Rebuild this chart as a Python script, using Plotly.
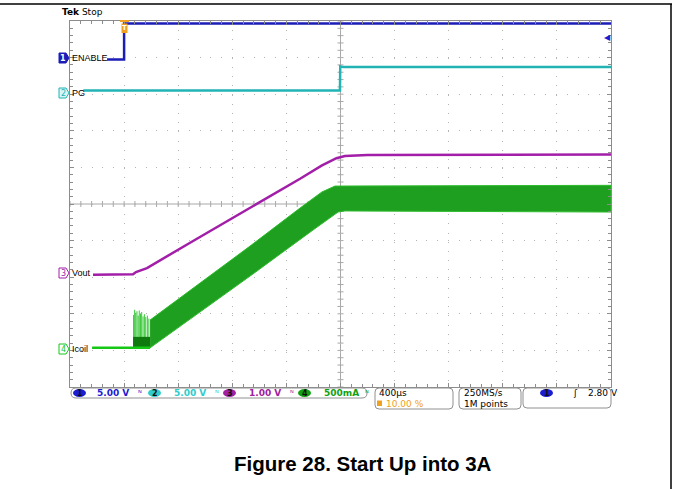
import plotly.graph_objects as go

# ---------------- data (time in µs, physical units per channel) ----------------
enable_t = [-126, 0, 0, 3600]
enable_v = [0.0, 0.0, 4.9, 4.9]

pg_t = [-302, 1596, 1598, 1620, 3600]
pg_v = [0.0, 0.0, 3.3, 3.2, 3.2]

vout_t = [-230, 66, 88, 169, 510, 931, 1301, 1460, 1520, 1570, 1633, 1800, 3600]
vout_v = [0.0, 0.01, 0.07, 0.18, 0.92, 1.82, 2.62, 2.98, 3.10, 3.18, 3.24, 3.27, 3.28]

icoil_base_t = [-237, 192]
icoil_base_a = [0.0, 0.0]
icoil_hi_t = [192, 931, 1301, 1463, 1559, 3600]
icoil_hi_a = [0.38, 1.39, 1.91, 2.13, 2.21, 2.22]
icoil_lo_t = [192, 931, 1397, 1582, 1633, 3600]
icoil_lo_a = [0.0, 0.98, 1.61, 1.855, 1.87, 1.855]
spike_t = [70, 78, 86, 95, 104, 112, 121, 130, 140, 150, 160, 172, 183]
spike_a = [0.45, 0.52, 0.48, 0.50, 0.44, 0.51, 0.47, 0.49, 0.43, 0.46, 0.42, 0.44, 0.40]

# channel scales (per division) and screen offsets (divisions)
ch_scale = {"1": 5.0, "2": 5.0, "3": 1.0, "4": 0.5}
ch_offset = {"1": 3.95, "2": 3.1, "3": -1.93, "4": -3.93}
ch_color = {"1": "#1c1cb8", "2": "#22b4b4", "3": "#a21ea8", "4": "#16c816"}
ch_label = {"1": "ENABLE", "2": "PG", "3": "Vout", "4": "Icoil"}

status_scale = ["5.00 V", "5.00 V", "1.00 V", "500mA"]
timebase = "400µs"
trig_pos = "10.00 %"
sample_rate = "250MS/s"
record_len = "1M points"
trig_level = "2.80 V"
title = "Figure 28. Start Up into 3A"


def div(ch, vals):
    return [ch_offset[ch] + v / ch_scale[ch] for v in vals]


fig = go.Figure()

# Icoil band
band_x = icoil_hi_t + icoil_lo_t[::-1]
band_y = div("4", icoil_hi_a) + div("4", icoil_lo_a)[::-1]
fig.add_trace(go.Scatter(x=band_x, y=band_y, fill="toself", mode="lines",
                         fillcolor="#1f9f1f", line=dict(color="#2cbc2c", width=1),
                         hoverinfo="skip"))
# noise spikes at start
sx, sy = [], []
for t, a in zip(spike_t, spike_a):
    sx += [t, t, None]
    sy += [ch_offset["4"], ch_offset["4"] + a / ch_scale["4"], None]
fig.add_trace(go.Scatter(x=sx, y=sy, mode="lines", line=dict(color="#3cc83c", width=1),
                         hoverinfo="skip"))
fig.add_trace(go.Scatter(x=[66, 192, 192, 66], y=div("4", [0.0, 0.0, 0.15, 0.15]),
                         fill="toself", mode="lines", fillcolor="#0e7a0e",
                         line=dict(width=0), hoverinfo="skip"))
fig.add_trace(go.Scatter(x=icoil_base_t, y=div("4", icoil_base_a), mode="lines",
                         line=dict(color=ch_color["4"], width=2.5), hoverinfo="skip"))

fig.add_trace(go.Scatter(x=vout_t, y=div("3", vout_v), mode="lines",
                         line=dict(color=ch_color["3"], width=2.5),
                         hoverinfo="skip"))
fig.add_trace(go.Scatter(x=pg_t, y=div("2", pg_v), mode="lines",
                         line=dict(color=ch_color["2"], width=2.5), hoverinfo="skip"))
fig.add_trace(go.Scatter(x=enable_t, y=div("1", enable_v), mode="lines",
                         line=dict(color=ch_color["1"], width=2.5), hoverinfo="skip"))

L, T, W, H = 70, 21, 541, 366


def px(x):
    return (x - L) / W


def py(y):
    return (T + H - y) / H


def rrect(x0, y0, x1, y1, r):
    return (f"M {px(x0 + r)},{py(y0)} L {px(x1 - r)},{py(y0)} "
            f"Q {px(x1)},{py(y0)} {px(x1)},{py(y0 + r)} L {px(x1)},{py(y1 - r)} "
            f"Q {px(x1)},{py(y1)} {px(x1 - r)},{py(y1)} L {px(x0 + r)},{py(y1)} "
            f"Q {px(x0)},{py(y1)} {px(x0)},{py(y1 - r)} L {px(x0)},{py(y0 + r)} "
            f"Q {px(x0)},{py(y0)} {px(x0 + r)},{py(y0)} Z")


shapes = []
grid_c = "#a8a8a8"
# center cross
shapes.append(dict(type="line", xref="x", yref="y", x0=1600, x1=1600, y0=-5, y1=5,
                   line=dict(color=grid_c, width=1), layer="below"))
shapes.append(dict(type="line", xref="x", yref="y", x0=-400, x1=3600, y0=0, y1=0,
                   line=dict(color=grid_c, width=1), layer="below"))
for i in range(51):
    t = -400 + i * 80
    shapes.append(dict(type="line", xref="x", yref="y", xsizemode="scaled", ysizemode="pixel",
                       yanchor=0, x0=t, x1=t, y0=-3, y1=3,
                       line=dict(color=grid_c, width=1), layer="below"))
for i in range(51):
    yv = -5 + i * 0.2
    shapes.append(dict(type="line", xref="x", yref="y", xsizemode="pixel", xanchor=1600,
                       x0=-3, x1=3, y0=yv, y1=yv,
                       line=dict(color=grid_c, width=1), layer="below"))

# page frame lines
shapes.append(dict(type="line", xref="paper", yref="paper", x0=px(0), x1=px(672), y0=py(4), y1=py(4),
                   line=dict(color="black", width=1.5)))
shapes.append(dict(type="line", xref="paper", yref="paper", x0=px(671), x1=px(671), y0=py(4), y1=py(489),
                   line=dict(color="black", width=1.5)))

# status boxes
for (x0, y0, x1, y1, r) in [(71, 388, 367, 398, 5), (375, 388, 453, 409, 4),
                            (459, 388, 521, 409, 4), (523, 388, 611, 408, 4)]:
    shapes.append(dict(type="path", xref="paper", yref="paper", path=rrect(x0, y0, x1, y1, r),
                       line=dict(color="#909090", width=1)))

ann = []
font = "DejaVu Sans"


def text(x, y, s, color="black", size=9, anchor="left", bold=False, fam=font):
    ann.append(dict(xref="paper", yref="paper", x=px(x), y=py(y), text=(f"<b>{s}</b>" if bold else s),
                    showarrow=False, xanchor=anchor, yanchor="middle",
                    font=dict(family=fam, size=size, color=color)))


def ellipse(x0, x1, y0, y1, color, label, tcolor="#101010"):
    shapes.append(dict(type="circle", xref="paper", yref="paper", x0=px(x0), x1=px(x1),
                       y0=py(y0), y1=py(y1), fillcolor=color, line=dict(width=0)))
    text((x0 + x1) / 2, (y0 + y1) / 2, label, tcolor, 8, "center", True)


st_colors = ["#1c1cd0", "#30cccc", "#a020a0", "#12a012"]
ell_x = [73, 148, 223, 298]
txt_x = [95, 172, 247, 322]
bw_x = [136, 213, 288, 363]
for i in range(4):
    ellipse(ell_x[i], ell_x[i] + 13, 389, 397, st_colors[i], str(i + 1))
    text(txt_x[i], 393, status_scale[i], st_colors[i], 9, bold=True)
    text(bw_x[i], 393, "ᴺ", st_colors[i], 8)

text(377, 393, timebase, "black", 9)
shapes.append(dict(type="rect", xref="paper", yref="paper", x0=px(377), x1=px(382), y0=py(400.5),
                   y1=py(406), fillcolor="#f0a020", line=dict(width=0)))
text(384, 403.5, trig_pos, "#f0a020", 9)
text(462, 393, sample_rate, "black", 9)
text(462, 403.5, record_len, "black", 9)
ellipse(540, 553, 389, 397, "#1c1cd0", "1")
text(571, 393, "ʃ", "black", 9)
text(586, 393, trig_level, "black", 9)

# Tek Stop
text(60, 12, "<b>Tek</b> Stop", "black", 9)

# channel markers and labels
for ch, yv in [("1", 58), ("2", 93), ("3", 273), ("4", 349)]:
    c = ch_color[ch]
    if ch == "1":
        shapes.append(dict(type="path", xref="paper", yref="paper",
                           path=(f"M {px(59)},{py(yv - 5)} L {px(66)},{py(yv - 5)} L {px(69)},{py(yv)} "
                                 f"L {px(66)},{py(yv + 5)} L {px(59)},{py(yv + 5)} Z"),
                           fillcolor=c, line=dict(color=c, width=1)))
        text(63, yv, "1", "white", 8, "center", True)
    else:
        shapes.append(dict(type="path", xref="paper", yref="paper",
                           path=(f"M {px(59)},{py(yv - 5)} L {px(66)},{py(yv - 5)} L {px(69)},{py(yv)} "
                                 f"L {px(66)},{py(yv + 5)} L {px(59)},{py(yv + 5)} Z"),
                           fillcolor="white" if ch != "2" else "#d8f4f4",
                           line=dict(color=c, width=1)))
        text(63, yv, ch, c, 8, "center")
    text(69.5, yv, ch_label[ch], "black", 9, fam="Liberation Sans")

# trigger position and level markers
shapes.append(dict(type="rect", xref="paper", yref="paper", x0=px(121.5), x1=px(127.5), y0=py(23.5),
                   y1=py(33), fillcolor="#f0a020", line=dict(width=0)))
shapes.append(dict(type="line", xref="paper", yref="paper", x0=px(120), x1=px(129), y0=py(21), y1=py(21),
                   line=dict(color="#f0a020", width=2)))
text(124.5, 28.5, "T", "white", 7, "center", True)
text(607, 37, "◀", "#1c1cd0", 8, "center")

# title
ann.append(dict(xref="paper", yref="paper", x=px(363), y=py(463), text=f"<b>{title}</b>",
                showarrow=False, xanchor="center", yanchor="middle",
                font=dict(family="Liberation Sans", size=20.5, color="black")))

axis_common = dict(showticklabels=False, zeroline=False, showline=True, linecolor="#8c8c8c",
                   linewidth=1, mirror="allticks", ticks="inside", ticklen=4, tickcolor="#8c8c8c",
                   showgrid=True, gridcolor="#b4b4b4", gridwidth=1, fixedrange=True)

fig.update_layout(
    width=674, height=489, margin=dict(l=L, r=674 - L - W, t=T, b=489 - T - H),
    paper_bgcolor="white", plot_bgcolor="white", showlegend=False,
    xaxis=dict(range=[-400, 3600], tick0=-400, dtick=400, griddash="1px,8.2px",
               minor=dict(dtick=80, ticks="inside", ticklen=3, tickcolor="#8c8c8c", showgrid=False),
               **axis_common),
    yaxis=dict(range=[-5, 5], tick0=-5, dtick=1, griddash="1px,9.8px",
               minor=dict(dtick=0.2, ticks="inside", ticklen=3, tickcolor="#8c8c8c", showgrid=False),
               **axis_common),
    shapes=shapes, annotations=ann,
)

fig.write_html("out.html", config={"displayModeBar": False},
               post_script="document.body.style.margin='0px';")
